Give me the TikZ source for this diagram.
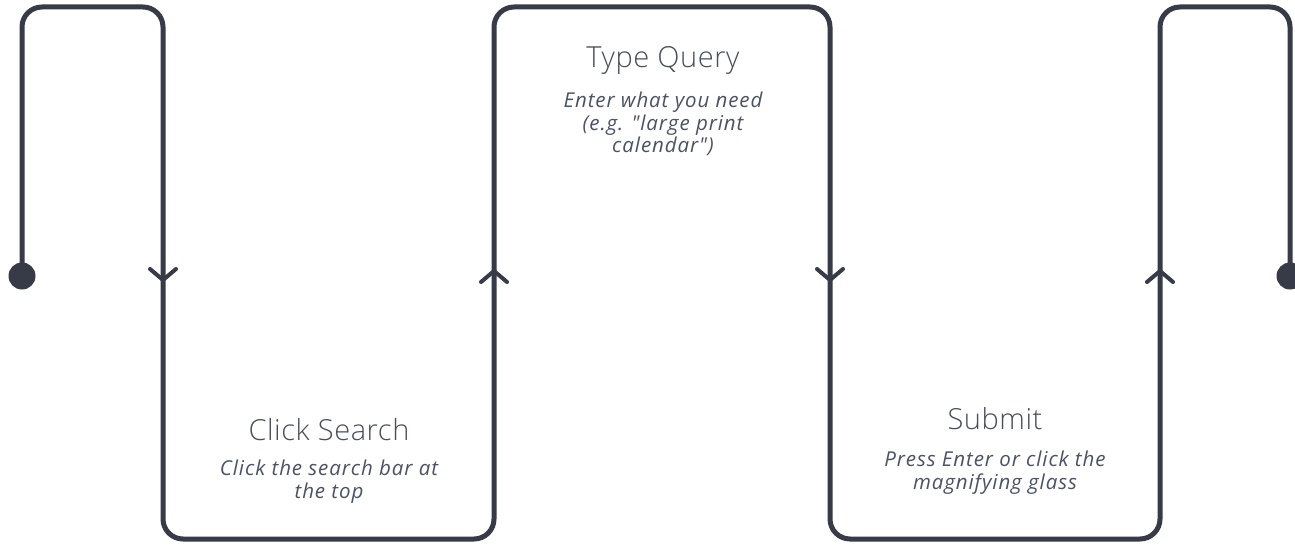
\documentclass[tikz,border=0pt]{standalone}
\usepackage{fontspec}
\setmainfont{Open Sans}
\newfontfamily\titlefont{Open Sans Light}[LetterSpace=2]
\newfontfamily\subfont{Open Sans}[LetterSpace=4.5]
\definecolor{pathcol}{HTML}{373B48}
\definecolor{titlecol}{HTML}{4A4F5C}
\definecolor{subcol}{HTML}{4B5263}
\begin{document}
\begin{tikzpicture}[x=1pt,y=-1pt,
  flow/.style={draw=pathcol,line width=5pt,rounded corners=20pt},
  chev/.style={draw=pathcol,line width=4pt,line cap=round,line join=round},
  enddot/.style={circle,fill=pathcol,inner sep=0pt,minimum size=27pt},
  ttl/.style={text=titlecol,font=\titlefont\fontsize{29}{34}\selectfont,anchor=center},
  sub/.style={text=subcol,font=\subfont\itshape\fontsize{20.5}{22.8}\selectfont,align=center,anchor=center}]
\useasboundingbox (0,0) rectangle (1295,545);
\fill[white] (0,0) rectangle (1295,545);
% corner points
\coordinate (s) at (22,276);
\coordinate (c1) at (22,7);
\coordinate (c2) at (163,7);
\coordinate (c3) at (163,539);
\coordinate (c4) at (494,539);
\coordinate (c5) at (494,7);
\coordinate (c6) at (830,7);
\coordinate (c7) at (830,539);
\coordinate (c8) at (1160,539);
\coordinate (c9) at (1160,7);
\coordinate (c10) at (1290,7);
\coordinate (e) at (1290,276);
\draw[flow] (s) -- (c1) -- (c2) -- (c3) -- (c4) -- (c5) -- (c6) -- (c7) -- (c8) -- (c9) -- (c10) -- (e);
\node[enddot] (startdot) at (s) {};
\node[enddot] (enddot) at (e) {};
% chevrons
\coordinate (a1) at (163,280);
\coordinate (a2) at (494,271);
\coordinate (a3) at (830,280);
\coordinate (a4) at (1160,271);
\draw[chev] ([shift={(-13,-11)}]a1) -- (a1) -- ([shift={(13,-11)}]a1);
\draw[chev] ([shift={(-13,11)}]a2) -- (a2) -- ([shift={(13,11)}]a2);
\draw[chev] ([shift={(-13,-11)}]a3) -- (a3) -- ([shift={(13,-11)}]a3);
\draw[chev] ([shift={(-13,11)}]a4) -- (a4) -- ([shift={(13,11)}]a4);
% texts
\node[ttl] (t1) at (329,430) {Click Search};
\node[sub] (d1) at (329,482) {Click the search bar at\\the top};
\node[ttl] (t2) at (663,60) {Type Query};
\node[sub] (d2) at (663,124) {Enter what you need\\(e.g. "large print\\calendar")};
\node[ttl] (t3) at (995,419) {Submit};
\node[sub] (d3) at (995,473) {Press Enter or click the\\magnifying glass};
\end{tikzpicture}
\end{document}
